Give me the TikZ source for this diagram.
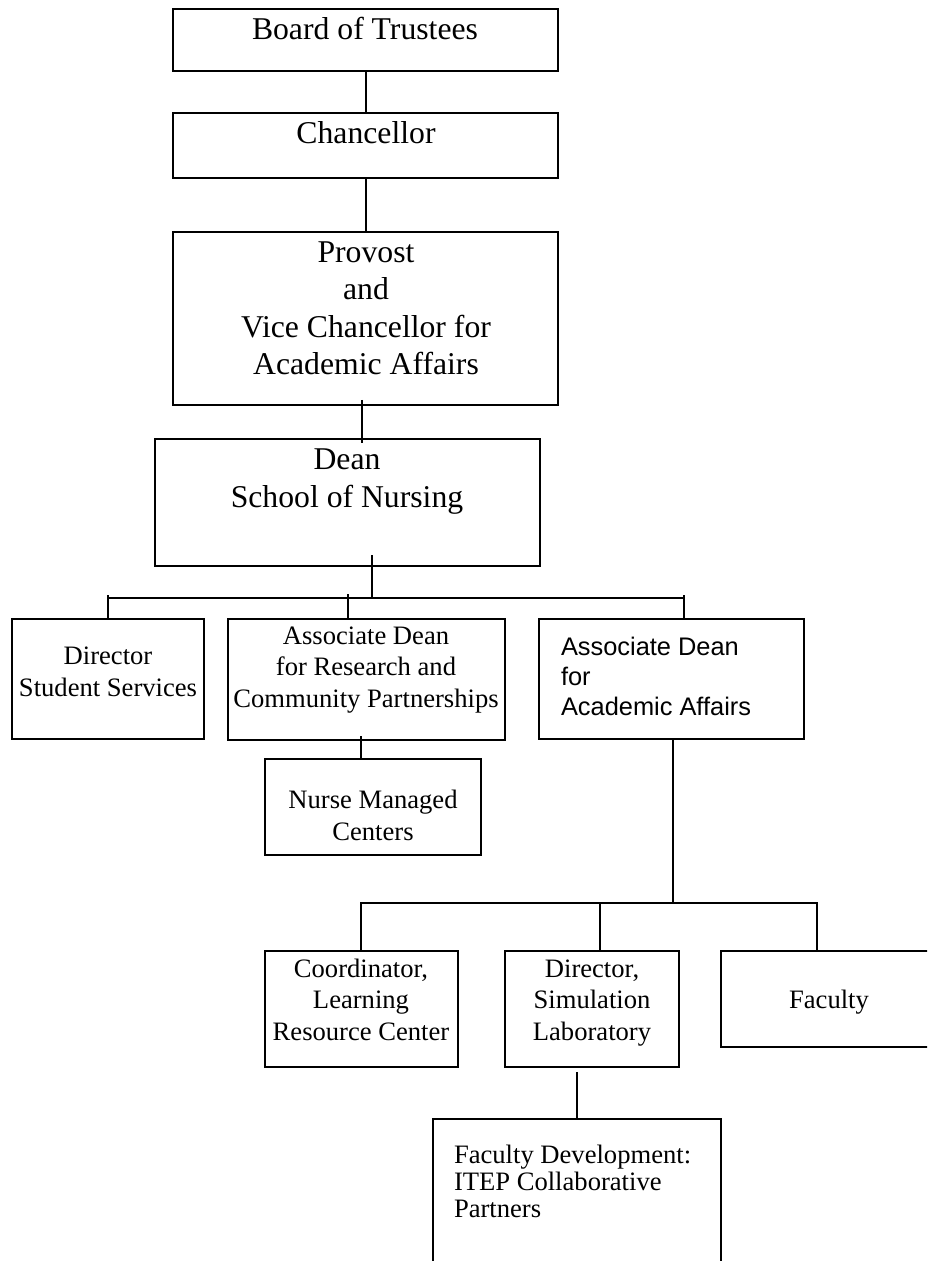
\documentclass[tikz,border=0pt]{standalone}
\usepackage{fontspec}
\setmainfont{Liberation Serif}
\newfontfamily\arialfont{Liberation Sans}
\usetikzlibrary{fit,calc}
\begin{document}
\begin{tikzpicture}[x=0.5pt,y=-0.5pt,line width=1pt,
  box/.style={draw,line width=1pt,inner sep=0pt,fit={#1}},
  big/.style={inner sep=0pt,anchor=base,align=center,font=\fontsize{15.85}{18.65}\selectfont},
  small/.style={inner sep=0pt,anchor=base,align=center,font=\fontsize{13.3}{15.6}\selectfont},
  arialtxt/.style={inner sep=0pt,anchor=base west,align=left,font=\arialfont\fontsize{12.7}{15}\selectfont},
  fdevtxt/.style={inner sep=0pt,anchor=base west,align=left,font=\fontsize{13.3}{13.5}\selectfont}]
\useasboundingbox (0,0) rectangle (927,1261);
\clip (0,0) rectangle (927,1261);
% boxes
\node[box={(173,9) (558,71)}] (board) {};
\node[box={(173,113) (558,178)}] (chan) {};
\node[box={(173,232) (558,405)}] (prov) {};
\node[box={(155,439) (540,566)}] (dean) {};
\node[box={(12,619) (204,739)}] (dir) {};
\node[box={(228,619) (505,740)}] (res) {};
\node[box={(539,619) (804,739)}] (aca) {};
\node[box={(265,759) (481,855)}] (nur) {};
\node[box={(265,951) (458,1067)}] (coo) {};
\node[box={(505,951) (679,1067)}] (dsim) {};
\node[box={(721,951) (937,1047)}] (fac) {};
\node[box={(433,1119) (721,1300)}] (fdev) {};
% texts (anchor = baseline of the last line)
\node[big] (t-board) at (365,40) {Board of Trustees};
\node[big] (t-chan) at (366,143.5) {Chancellor};
\node[big] (t-prov) at (366,374.5) {Provost\\and\\Vice Chancellor for\\Academic Affairs};
\node[big] (t-dean) at (347,507) {Dean\\School of Nursing};
\node[small] (t-dir) at (108,696) {Director\\Student Services};
\node[small] (t-res) at (366,707) {Associate Dean\\for Research and\\Community Partnerships};
\node[arialtxt] (t-aca) at (560,715) {Associate Dean\\for\\Academic Affairs};
\node[small] (t-nur) at (373,840) {Nurse Managed\\Centers};
\node[small] (t-coo) at (361,1040) {Coordinator,\\Learning\\Resource Center};
\node[small] (t-dsim) at (592,1040) {Director,\\Simulation\\Laboratory};
\node[small] (t-fac) at (829,1008) {Faculty};
\node[fdevtxt] (t-fdev) at (453,1217) {Faculty Development:\\ITEP Collaborative\\Partners};
% connectors
\draw (board.south) -- (chan.north);
\draw (chan.south) -- (prov.north);
\draw ($(prov.south -| 362,0)+(0,-6)$) -- ($(dean.north -| 362,0)+(0,5)$);
\coordinate (bu) at (372,598);
\coordinate (bl) at (108,598);
\coordinate (br) at (684,598);
\draw ($(dean.south -| bu)+(0,-12)$) -- (bu);
\draw (bl) -- (br);
\draw ($(bl)+(0,-3)$) -- (dir.north -| bl);
\draw ($(res.north -| 348,0)+(0,-24)$) -- (res.north -| 348,0);
\draw ($(br)+(0,-3)$) -- (aca.north -| br);
\draw ($(res.south -| 361,0)+(0,-5)$) -- (nur.north -| 361,0);
\coordinate (lc) at (673,903);
\draw (aca.south -| lc) -- (lc);
\draw (coo.north -| 361,0) -- (lc -| 361,0) -- (lc -| 817,0) -- (fac.north -| 817,0);
\draw (dsim.north -| 600,0) -- (lc -| 600,0);
\draw ($(dsim.south -| 577,0)+(0,4)$) -- (fdev.north -| 577,0);
\end{tikzpicture}
\end{document}
